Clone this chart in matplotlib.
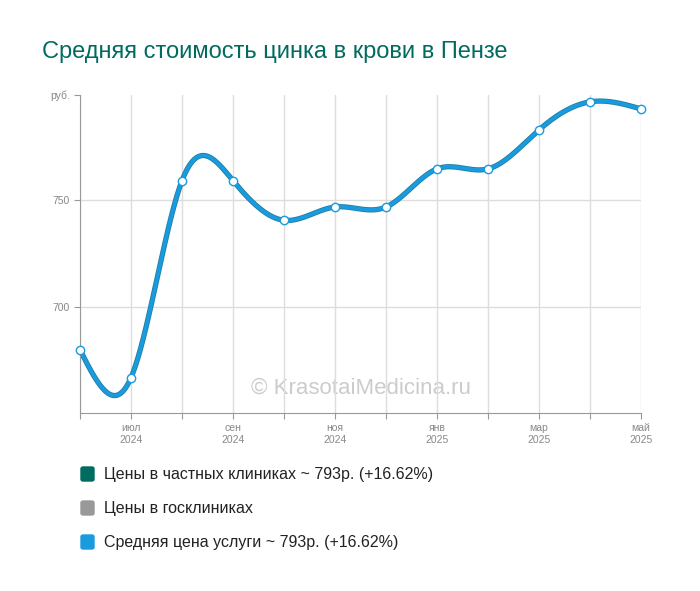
import numpy as np
import matplotlib.pyplot as plt
from matplotlib.patches import FancyBboxPatch

plt.rcParams["font.family"] = ["Liberation Sans", "DejaVu Sans"]

MONTHS = ["июн", "июл", "авг", "сен", "окт", "ноя", "дек", "янв", "фев", "мар", "апр", "май"]
YEARS = ["2024"] * 7 + ["2025"] * 5
PRICES = [680, 667, 759, 759, 740.5, 746.7, 746.7, 764.5, 764.5, 782.7, 795.8, 792.5]
LEGEND = [
    ("Цены в частных клиниках ~ 793р. (+16.62%)", "#006b5f"),
    ("Цены в госклиниках", "#999999"),
    ("Средняя цена услуги ~ 793р. (+16.62%)", "#1a9be0"),
]


def natural_spline(x, y, n=400):
    x = np.asarray(x, float)
    y = np.asarray(y, float)
    k = len(x)
    h = np.diff(x)
    a = np.zeros((k, k))
    b = np.zeros(k)
    a[0, 0] = a[-1, -1] = 1
    for i in range(1, k - 1):
        a[i, i - 1] = h[i - 1]
        a[i, i] = 2 * (h[i - 1] + h[i])
        a[i, i + 1] = h[i]
        b[i] = 6 * ((y[i + 1] - y[i]) / h[i] - (y[i] - y[i - 1]) / h[i - 1])
    m = np.linalg.solve(a, b)
    xs = np.linspace(x[0], x[-1], n)
    idx = np.clip(np.searchsorted(x, xs) - 1, 0, k - 2)
    x0, x1 = x[idx], x[idx + 1]
    hh = x1 - x0
    t0, t1 = x1 - xs, xs - x0
    ys = (m[idx] * t0**3 + m[idx + 1] * t1**3) / (6 * hh) \
        + (y[idx] / hh - m[idx] * hh / 6) * t0 + (y[idx + 1] / hh - m[idx + 1] * hh / 6) * t1
    return xs, ys


fig = plt.figure(figsize=(7, 5.91), dpi=100)
ax = fig.add_axes([80 / 700, 1 - 413 / 591, 561 / 700, 318 / 591])
x = np.arange(len(PRICES))
xs, ys = natural_spline(x, PRICES)

ax.plot(xs, ys, color="#1f7fa0", lw=3.8, zorder=2, clip_on=False)
ax.plot(xs, ys, color="#1a9be0", lw=2.6, zorder=3, clip_on=False)
ax.scatter(x, PRICES, s=36, facecolor="white", edgecolor="#1a9be0", lw=1, zorder=4, clip_on=False)

ax.set_xlim(0, len(PRICES) - 1)
ax.set_ylim(650.5, 799)
ax.set_yticks([700, 750, 799])
ax.set_yticklabels(["700", "750", "руб."])
ax.set_xticks(x)
ax.set_xticklabels([f"{m}\n{yr}" if i % 2 else "" for i, (m, yr) in enumerate(zip(MONTHS, YEARS))])
ax.tick_params(colors="#999999", labelsize=7.5, length=4, labelcolor="#888888")
ax.grid(True, axis="x", color="#dddddd", lw=1)
for yv in [700, 750]:
    ax.axhline(yv, color="#dddddd", lw=1, zorder=0)
for s in ["top", "right"]:
    ax.spines[s].set_visible(False)
for s in ["left", "bottom"]:
    ax.spines[s].set_color("#999999")
ax.text(0.5, 0.06, "© KrasotaiMedicina.ru", transform=ax.transAxes, ha="center",
        fontsize=16, color="#cccccc", zorder=1)

fig.text(42 / 700, 1 - 52 / 591, "Средняя стоимость цинка в крови в Пензе",
         fontsize=17, color="#006b5f", va="center")
for i, (label, color) in enumerate(LEGEND):
    yc = 1 - (474 + i * 34) / 591
    fig.patches.append(FancyBboxPatch((81 / 700, yc - 7 / 591), 13 / 700, 14 / 591,
                                      boxstyle="round,pad=0,rounding_size=0.003",
                                      transform=fig.transFigure, color=color))
    fig.text(104 / 700, yc, label, fontsize=11.5, va="center", color="#222222")

fig.savefig("out.png", dpi=100)
